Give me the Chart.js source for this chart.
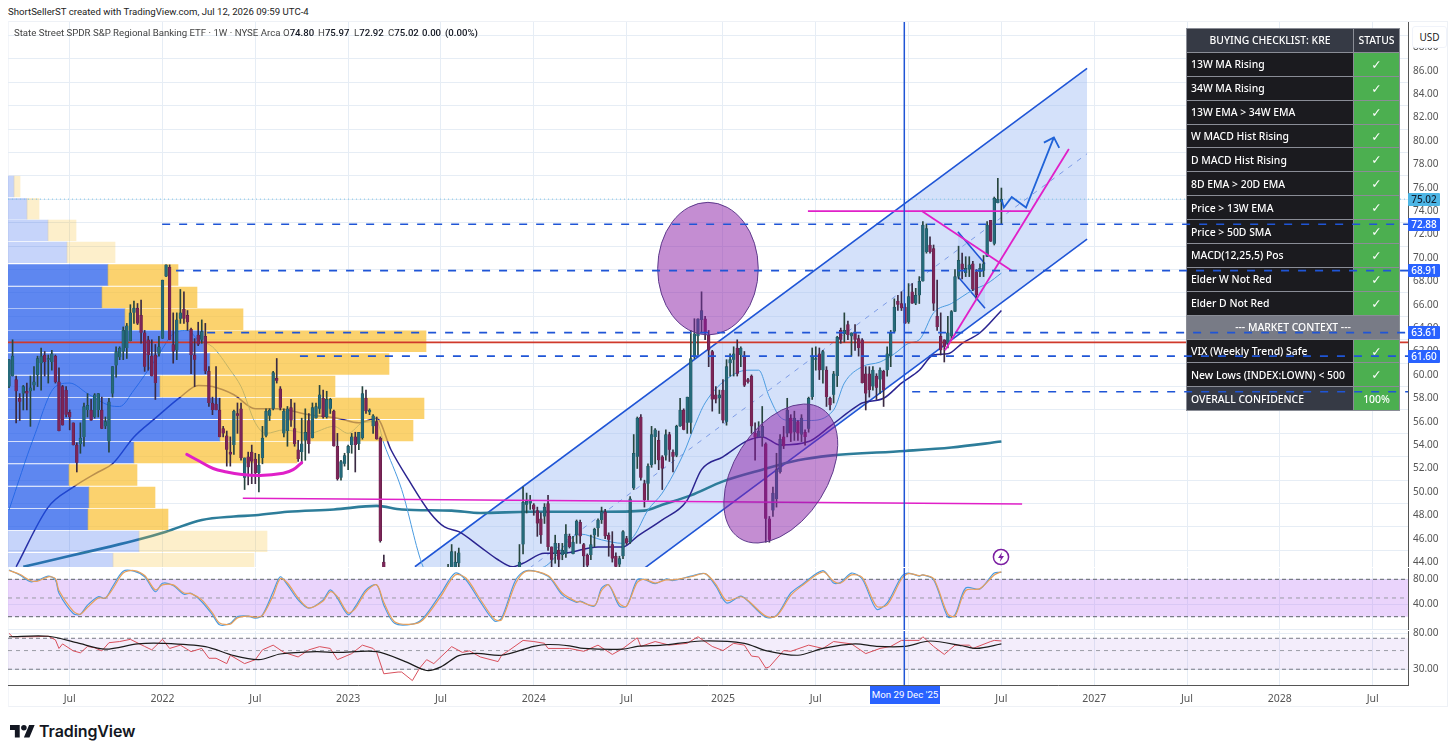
<!DOCTYPE html>
<html>
<head>
<meta charset="utf-8">
<title>KRE weekly</title>
<script src="https://cdn.jsdelivr.net/npm/chart.js@4"></script>
<style>
  html, body { margin: 0; padding: 0; background: #fff; width: 1456px; height: 755px; overflow: hidden; }
  body { position: relative; font-family: "Noto Sans", sans-serif; color: #131722; }
  canvas, .abs { position: absolute; }
  #credit { left: 8px; top: 6px; font: 9.65px Roboto, sans-serif; color: #222; white-space: nowrap; }
  #frame { left: 8px; top: 21px; width: 1440px; height: 686px; border: 1px solid #eef1f6; border-left-color: #f3f5f9; box-sizing: border-box; }
  #legend { left: 14px; top: 27px; height: 14px; width: 480px; font: 9.65px Roboto, sans-serif; color: #444; z-index: 6; white-space: nowrap; }
  #legend span { position: absolute; top: 0; }
  #legend b { font-weight: 500; color: #131722; }
  #usd { left: 1412px; top: 26px; width: 33px; height: 20px; line-height: 20px; text-align: center; background: #fff; border: 1px solid #f0f3fa; border-radius: 3px; font: 10px/20px "Noto Sans", sans-serif; color: #222; z-index: 7; }
  #checklist { left: 1186px; top: 28px; width: 214px; height: 382px; border-collapse: collapse; table-layout: fixed; z-index: 2; font: 500 10.4px "Noto Sans", sans-serif; color: #fff; }
  #checklist td { border: 1px solid #8a8d96; padding: 0 0 0 4px; height: 22.9px; background: #1b1b1f; white-space: nowrap; overflow: hidden; }
  #checklist td.status { background: #4caf50; text-align: center; padding: 0; font: bold 12.5px "DejaVu Sans", sans-serif; }
  #checklist tr.head td { background: #363a45; text-align: center; padding: 0; font-weight: 500; }
  #checklist tr.head td.status { font: 500 10.4px "Noto Sans", sans-serif; }
  #checklist tr.context td { background: #787b86; text-align: center; padding: 0; }
  #checklist tr.total td.name { background: #363a45; }
  #checklist tr.total td.status { font: 500 10.4px "Noto Sans", sans-serif; }
  .tag { left: 1408px; width: 32px; height: 13px; line-height: 13px; text-align: center; font: 500 10px/13px "Noto Sans", sans-serif; background: #2962ff; color: #fff; border-radius: 1px; z-index: 5; }
  #crossTag { left: 870px; top: 686px; width: 70px; height: 18px; line-height: 18px; text-align: center; background: #2962ff; color: #fff; font: 9.7px/18px Roboto, sans-serif; white-space: nowrap; z-index: 6; }
  #brand { left: 39px; top: 719px; font: 600 16px/24px Inter, sans-serif; color: #131722; letter-spacing: -0.1px; }
</style>
</head>
<body>
<div id="frame" class="abs"></div>
<div id="credit" class="abs">ShortSellerST created with TradingView.com, Jul 12, 2026 09:59 UTC-4</div>
<canvas id="priceChart" width="1456" height="545" style="left:0;top:22px;z-index:1"></canvas>
<canvas id="stochChart" width="1456" height="62" style="left:0;top:568px;z-index:1"></canvas>
<canvas id="rsiChart" width="1456" height="86" style="left:0;top:621px;z-index:1"></canvas>
<table id="checklist" class="abs"></table>
<canvas id="levelChart" width="1456" height="545" style="left:0;top:22px;z-index:3"></canvas>
<div id="legend" class="abs">
  <span style="left:0">State Street SPDR S&amp;P Regional Banking ETF · 1W · NYSE Arca</span>
  <span style="left:269px">O<b>74.80</b></span>
  <span style="left:304px">H<b>75.97</b></span>
  <span style="left:340px">L<b>72.92</b></span>
  <span style="left:374px">C<b>75.02</b></span>
  <span style="left:408px"><b>0.00</b></span>
  <span style="left:431px"><b>(0.00%)</b></span>
</div>
<div id="usd" class="abs">USD</div>
<div id="crossTag" class="abs">Mon 29 Dec '25</div>
<svg class="abs" style="left:992px;top:548px;z-index:6" width="18" height="18" viewBox="0 0 18 18">
  <circle cx="9" cy="9" r="7.6" fill="#fff" stroke="#7b1fa2" stroke-width="1.5"/>
  <path d="M10.2 4 L6 10 H8.8 L7.8 14 L12 8 H9.2 Z" fill="#7b1fa2"/>
</svg>
<svg class="abs" style="left:10px;top:722px" width="25" height="20" viewBox="0 0 36 28">
  <path d="M14 22H7V11H0V4h14v18zM28 22h-8l7.5-18h8L28 22z" fill="#131722"/>
  <circle cx="20" cy="8" r="4" fill="#131722"/>
</svg>
<div id="brand" class="abs">TradingView</div>

<script>
// velas semanais
const candleOpen = [
  59.0,59.9,59.6,58.0,58.4,58.6,58.6,59.1,60.0,61.0, 61.7,61.3,61.1,61.6,59.4,59.0,58.7,56.8,55.9,54.0,
  54.1,54.7,57.0,57.0,56.4,57.0,57.0,55.6,54.3,58.4, 60.8,61.5,62.0,62.3,62.9,65.3,65.7,65.1,63.6,63.0,
  61.6,61.7,61.8,63.1,68.4,69.2,62.6,62.1,64.8,65.6, 65.1,63.9,61.7,63.4,63.0,63.3,60.3,57.6,57.5,57.0,
  55.4,54.8,53.4,54.0,56.7,57.1,51.2,53.0,53.4,52.8, 51.6,52.9,54.8,56.5,57.1,59.7,58.8,55.0,55.2,57.2,
  55.4,53.6,53.4,54.4,56.1,54.6,56.3,57.1,58.0,56.4, 57.1,56.9,53.9,51.2,52.4,53.3,54.0,54.7,54.1,54.6,
  58.0,56.8,55.6,56.0,54.6,44.0,42,41.5,40.5,41, 40,38,39,36,38,39.5,40.5,41.5,41,40,
  41,41.5,42.5,43,43.5,43.3,43.9,43.4,42,41.5, 40.5,41,39.5,39,38.5,39.5,39,40,40.5,41.5,
  42,42.5,43,43,45.5,48.9,49.0,48.9,48.4,47.7, 47.9,49.0,45.3,44.7,45.0,44.6,44.7,46.2,44.7,46.3,
  47.4,45.5,44.6,44.6,46.3,46.9,47.6,48.3,46.3,45.5, 44.5,43.8,44.5,46.0,45.7,50.3,53.0,56.4,50.7,50.7,
  52.3,54.7,54.4,53.0,53.1,54.9,53.4,53.1,55.6,57.0, 55.9,55.9,61.5,63.3,64.7,64.8,63.4,62.0,58.3,58.0,
  58.7,56.0,61.0,61.3,62.3,61.7,61.6,59.6,59.9,55.0, 54.7,54.7,54.1,47.7,48.4,49.4,51.7,54.7,55.0,56.3,
  55.1,56.0,54.9,55.1,55.4,58.1,61.3,61.8,60.4,60.4, 58.0,58.3,59.9,63.8,63.5,64.3,63.3,63.6,63.1,63.0,
  60.1,60.1,59.0,59.9,59.6,60.3,60.4,61.6,63.7,66.3, 66.1,65.8,64.5,67.1,66.1,66.8,68.0,70.5,71.1,70.8,
  65.0,63.3,63.0,62.7,63.3,65.4,68.4,69.5,68.7,69.0, 69.5,68.8,68.8,68.9,70.1,73.2,71.2,74.7,74.8
];
const candleHigh = [
  61.3,63.0,59.9,58.4,59.1,59.3,59.9,60.7,61.6,62.3, 62.0,61.7,62.1,61.7,60.6,59.1,59.0,57.0,55.9,54.2,
  55.9,57.6,58.4,57.9,58.4,58.4,58.1,56.4,58.0,60.7, 62.4,62.4,64.1,64.4,66.0,66.3,66.1,66.4,63.8,63.3,
  63.0,62.6,63.3,68.1,69.4,69.4,65.3,65.3,67.3,67.1, 65.5,64.0,63.1,64.5,64.7,64.4,60.7,58.1,60.7,58.0,
  55.6,55.2,54.7,57.0,57.6,57.6,52.9,53.4,54.0,53.3, 53.2,55.6,57.1,57.1,60.3,61.4,59.0,57.1,57.3,57.9,
  57.6,54.4,56.3,57.1,56.7,57.6,57.6,59.1,58.7,58.6, 58.0,57.0,55.0,52.7,53.3,54.0,55.0,55.1,55.1,59.0,
  58.7,57.1,56.6,56.4,54.7,44.6,43,42.5,42,42, 41,39.5,40,38.5,40,41,42,42.5,42,41.5,
  42,43,43.5,43.8,45.5,44.9,45.2,43.5,43,42, 41.5,41.5,40.5,40,40,40.5,40.5,41,42,42.5,
  43,43.3,43.5,45.5,50.4,49.9,49.7,49.0,48.7,48.2, 49.0,49.7,45.3,46.3,45.6,45.6,47.2,46.4,46.2,47.6,
  47.6,45.6,44.7,46.3,46.9,47.7,48.7,48.5,46.5,46.6, 44.8,44.5,46.7,46.2,49.6,54.9,56.4,56.6,51.0,52.4,
  55.6,55.4,55.2,53.1,55.3,55.1,53.6,55.7,58.0,57.1, 58.1,63.8,64.8,64.8,67.1,65.0,63.8,62.1,59.0,58.7,
  59.6,61.3,61.8,62.4,63.0,62.4,62.0,59.7,60.0,55.9, 56.0,57.3,54.2,47.9,50.4,53.3,54.9,55.6,58.0,56.6,
  56.9,56.1,56.6,55.3,58.1,62.3,62.4,62.3,62.1,60.7, 58.1,60.3,63.3,64.0,65.3,64.6,63.6,64.3,63.4,63.1,
  60.7,60.7,60.7,60.1,60.6,60.4,62.4,63.8,66.5,66.8, 67.1,66.1,67.8,67.8,67.4,68.4,73.1,72.9,71.8,71.1,
  68.1,65.3,63.0,65.0,65.5,69.0,71.0,70.4,70.1,70.1, 69.7,69.0,69.5,70.2,73.1,73.2,75.2,76.8,75.97
];
const candleLow = [
  58.9,59.9,55.9,56.1,57.0,57.0,55.6,58.7,59.0,58.7, 59.9,59.3,60.4,59.3,55.2,55.7,56.4,55.3,54.0,51.7,
  53.3,53.9,56.4,56.1,56.3,56.4,55.4,55.4,53.4,58.1, 59.8,61.3,61.3,61.4,62.9,64.4,64.3,62.7,60.3,60.4,
  59.9,57.9,61.6,63.1,68.4,63.0,61.0,61.3,64.4,64.4, 63.8,60.1,59.0,62.5,62.7,60.1,57.3,56.6,57.0,54.7,
  54.7,52.2,52.2,53.2,55.0,52.7,50.2,50.6,50.7,50.7, 50.0,52.4,54.7,56.1,57.0,59.3,57.0,54.7,53.9,55.6,
  53.9,52.6,52.4,52.7,53.3,54.6,56.3,56.7,56.3,56.3, 56.7,53.9,51.0,51.0,52.2,51.9,53.3,51.7,53.6,54.5,
  56.7,56.6,55.0,54.5,45.7,39.5,39.5,39,39,39.5, 37,36.5,35.5,35,37.5,39,40,40.5,39.5,39.5,
  40,41,41.5,42,42.8,42.5,43.0,41.5,41,40, 39.5,39,38.5,38,38,38.5,38.5,39.5,40,41,
  41.5,42,42.5,42.5,44.7,48.2,48.5,48.0,46.2,45.6, 47.3,45.0,43.6,43.9,43.5,44.2,44.4,45.2,44.7,45.6,
  45.6,43.6,43.4,44.2,45.3,46.2,47.3,46.0,44.5,44.0, 43.3,43.4,44.3,45.5,45.6,50.2,52.0,51.0,48.7,49.3,
  52.1,52.4,51.9,50.2,52.7,52.6,51.7,53.0,55.6,55.3, 55.0,55.0,61.4,61.7,63.6,63.0,60.7,56.9,57.6,56.7,
  55.9,55.7,59.9,59.9,59.9,60.7,59.0,59.3,55.0,52.7, 54.7,53.9,45.7,45.7,47.9,48.7,51.6,53.7,54.7,54.3,
  54.4,54.4,54.3,54.0,55.1,57.9,60.4,59.6,59.3,57.3, 57.0,57.6,59.0,62.7,62.8,63.0,61.6,62.1,61.6,59.3,
  57.0,58.1,58.7,57.9,58.4,57.3,59.9,60.7,63.6,65.5, 65.5,64.4,64.4,66.1,66.0,66.1,68.0,70.4,70.4,65.5,
  63.8,61.7,61.1,62.3,63.0,65.4,68.2,68.2,68.4,68.4, 67.2,66.5,68.4,68.4,70.1,71.4,71.1,74.7,72.92
];
const candleClose = [
  61.3,61.6,58.6,57.7,59.0,58.4,58.9,59.4,61.4,61.6, 61.1,61.4,61.8,59.4,55.2,55.7,56.6,56.4,54.0,52.5,
  54.6,57.3,57.4,56.1,58.3,58.4,55.4,56.0,57.7,60.7, 62.0,62.3,63.8,64.2,65.3,65.7,64.4,63.6,60.7,61.7,
  59.9,59.3,62.4,68.1,69.4,63.0,62.0,64.7,65.3,64.8, 64.5,61.7,61.3,62.6,63.7,60.3,57.6,57.0,57.0,54.7,
  55.0,53.6,53.2,56.9,56.5,52.9,52.9,52.1,52.6,51.6, 52.3,54.6,56.9,57.0,60.2,59.5,57.2,56.9,57.1,56.1,
  54.1,52.8,54.1,55.1,54.1,57.2,57.3,58.3,56.4,57.9, 57.9,53.9,51.1,52.6,53.1,53.9,54.7,54.0,55.1,58.4,
  56.9,57.0,56.5,54.5,45.8,42,41.5,40.5,41,40, 38,39,36,38,39.5,40.5,41.5,41,40,41,
  41.5,42.5,43,43.5,44.9,44.0,44.8,42,41.5,40.5, 41,39.5,39,38.5,39.5,39,40,40.5,41.5,42,
  42.5,43,43.2,44.0,49.1,49.2,49.3,48.5,47.3,46.3, 48.7,45.3,44.2,45.6,44.2,45.0,46.4,45.3,45.7,47.5,
  46.2,44.5,43.7,45.5,46.8,47.6,48.3,46.2,45.9,44.3, 43.6,44.3,46.6,45.6,49.4,53.3,56.3,51.2,49.3,52.2,
  54.9,55.3,52.7,52.0,54.9,53.6,53.0,55.6,57.0,55.3, 58.1,61.4,63.5,64.8,65.5,63.6,62.1,57.9,57.9,58.3,
  56.1,60.7,61.3,61.8,60.1,62.3,59.1,59.4,55.6,54.7, 55.2,55.6,47.7,45.9,49.9,51.9,54.5,53.9,57.0,55.0,
  56.3,55.0,56.3,54.7,58.0,61.6,61.4,60.4,62.0,58.1, 57.4,60.1,63.2,63.0,63.8,63.4,63.6,63.0,62.3,59.3,
  58.4,58.7,60.4,58.9,60.4,58.7,61.8,63.6,65.8,66.0, 65.7,64.4,66.7,66.1,66.8,68.0,72.8,72.5,70.5,66.1,
  64.1,62.1,62.4,63.6,65.4,68.4,69.8,69.0,69.1,69.4, 67.3,66.8,69.1,69.5,72.8,71.4,75.1,75.0,75.02
];

// médias móveis (barra, preço)
const longMaBars = [4,16,28,36,44,54,63,69,78,91,103,110,124,132,146,165,178,183,191,200,211,221,230,251,264,278];
const longMaValues = [43.6,44.46,45.3,45.9,46.6,47.6,47.9,48.0,48.3,48.5,48.8,48.5,48.4,48.2,48.3,48.3,48.4,48.9,49.7,50.9,51.9,52.7,53.1,53.5,53.8,54.3];
const midMaBars = [2,11,18,25,29,35,41,48,53,57,63,69,75,84,92,98,103,107,112,118,122,126,132,137,141,144,150,155,165,172,176,183,190,194,200,207,211,216,224,230,236,239,245,250,255,259,263,267,272,278];
const midMaValues = [43.6,48.7,50.4,51.7,52.4,54.7,56.3,58.1,59.1,59.0,58.3,57.1,57.1,56.6,56.3,55.9,56.3,53.6,51.0,48.2,47.0,46.6,45.3,44.2,43.6,43.9,44.75,44.75,45.3,45.3,46.2,47.6,49.3,51.9,53.0,54.4,54.7,54.0,54.3,55.6,57.0,57.6,58.0,59.3,60.4,61.7,61.8,62.7,63.6,65.5];
const fastMaBars = [0,7,13,17,22,28,31,35,41,47,50,53,57,62,65,69,72,77,84,91,95,99,103,105,110,116,125,135,145,150,160,166,172,175,179,183,189,192,195,202,207,210,213,216,219,224,231,234,239,244,248,252,255,259,264,270,274,278];
const fastMaValues = [48.45,54.7,59.0,59.3,58.4,57.4,57.3,58.7,61.3,63.7,63.8,63.0,62.4,60.4,59.0,55.9,55.0,55.3,55.0,55.6,55.0,55.9,56.0,54.15,50.2,43.6,40,42,43.3,43.6,46.4,45.9,45.6,46.2,48.45,49.9,53.3,55.6,57.6,59.85,60.4,60.4,58.1,56.4,56.1,56.1,57.0,59.3,60.7,61.1,61.8,62.7,63.0,65.3,66.1,67.25,67.8,68.7];

// perfil de volume
const profilePrices = [76.1,74.2,72.35,70.47,68.54,66.63,64.75,62.87,60.93,59.02,57.14,55.23,53.35,51.44,49.53,47.65,45.77,43.86];
const profileBuy = [6,19,40,59,100,94,117,196,202,152,212,212,126,61,81,80,131,105];
const profileSell = [6,12,28,48,70,95,118,222,179,175,204,193,163,68,66,80,128,141];
const profileFaded = [true,true,true,true,false,false,false,false,false,false,false,false,false,false,false,false,true,true];

// níveis e linhas desenhadas
const levelPrices = [72.88,68.91,63.61,61.60,58.56];
const levelStartBars = [42.9,46.8,55.5,81.5,253];
const lastClose = 75.02;
const redLevel = 62.78;
const crossBar = 250.8;

const channelBars = [113.7,302];
const channelUpper = [43.6,86.2];
const channelLower = [28.9,71.6];
const channelMid = [36.2,78.9];
const supportLineBars = [65.5,283.8];
const supportLineValues = [49.45,48.97];
const arcBars = [49.8,53.5,57.2,61,64.7,70.3,76.8,79.6,82];
const arcValues = [53.2,52.6,52.0,51.7,51.5,51.4,51.6,51.9,52.5];
const topLineBars = [223.8,286];
const topLineValues = [74.0,74.0];
const fallLineBars = [255.7,280.9];
const fallLineValues = [74.0,68.9];
const riseLineBars = [262.2,296.9];
const riseLineValues = [62.1,79.3];
const flagBars = [265.8,273.4];
const flagUpper = [72.24,69.5];
const flagLower = [68.4,65.7];
const pathBars = [278.1,278.7,280.9,284.9,292.7];
const pathValues = [74.95,74.3,75.2,74.3,80.3];
const arrowBars = [289.9,292.7,294.2];
const arrowValues = [79.85,80.3,79.4];

// painel estocástico
const stochBars = [0,3,6,8,11,13,14,18,20,22,25,27,29,32,35,38,41,43,46,49,51,54,57,59,62,64,67,69,71,74,76,78,81,84,88,90,92,95,97,100,103,105,108,113,116,121,125,128,132,136,138,142,145,151,155,159,160,164,166,168,171,173,176,178,181,184,186,191,195,198,201,205,207,212,215,219,222,228,231,233,236,239,243,246,250,252,255,256,259,263,265,268,272,276,278];
const stochK = [95,87,76,78,85,79,57.5,25,24,38.5,52,49.5,68,93,93,84,60,73.6,70,56,57.5,44,23,7,9.4,20,21,17.5,23,60,84,71,47,33.7,47,63,49.5,23,36,63,71,38.5,9.4,8,17.5,57.5,90,79,44,13,18,79.5,94,85,55,43,45,37,66,71,37,37,79.5,79.5,73,80.5,78,85,89,69,42,53,45,19,22,58,71,94,74,75,90,80.5,32,42,84,90,85,87,79.5,19.5,23,66,64.5,90,91];
const stochD = [94,88,78,77,84,81,62,29,24,35,50,50,64,90,94,86,63,71,71,58,57,47,26,10,8,18,21,19,22,54,81,74,50,34,45,60,52,26,33,60,71,43,12,8,15,53,87,82,48,16,15,74,93,86,58,44,44,38,62,71,41,37,75,80,74,79,79,84,89,72,46,52,46,21,21,54,69,92,77,74,87,83,37,39,80,89,86,87,81,24,21,62,65,87,92];

// painel RSI
const rsiBars = [0,1,7,11,13,14,15,18,20,22,24,26,28,31,34,38,40,43,45,48,51,54,56,58,61,62,66,69,71,74,77,81,84,87,90,92,96,99,102,103,105,109,110,113,115,117,119,124,127,129,132,137,138,140,144,147,150,151,157,161,165,169,172,176,177,181,185,190,193,197,200,203,206,208,210,212,213,217,219,224,228,231,236,240,244,247,250,255,256,259,262,265,269,270,275,276,278];
const rsiValues = [80,73,73,74,67,53,60,49.6,47,56,54,49.6,62,64,68,56,51,68,53,58,48.6,53,40.5,40.5,35,44,35,39,51,58,47.6,42,51,55.7,53,39,46,58,53,47.6,26.5,27.8,27.8,22,30.8,39,35,55.7,47.6,49.6,42,37,44,50,66,64,61,53,53,49,58,45,53,71,56,64,58,61,73,56,50,61,58,43,42,31,32,50,49,58,53,64,60,46,53,56,66,66,73,56,45,58,58,53,64,66,65];
const rsiMaBars = [0,11,19,27,36,43,55,63,70,76,86,92,103,111,117,121,126,131,138,147,151,157,161,172,176,183,194,206,212,221,228,237,243,251,258,267,271,278];
const rsiMaValues = [73,74,62,52,60,61,55.7,43.5,39,45.5,48.6,47.5,48.6,37,29,32,43.5,46.4,44,56,59,57,53,52,56,58,65,61,50,44,53,60,56,56,65,57,53,60];

// eixos
const priceTicks = [44,46,48,50,52,54,56,58,60,62,64,66,68,70,72,74,76,78,80,82,84,86,88];
const stochTicks = [0,40,80];
const rsiTicks = [30,80];
const timeTickBars = [17,43,69,95,121,147,173,200,226,252,278,304,330,356,382];
const timeTickLabels = ["Jul","2022","Jul","2023","Jul","2024","Jul","2025","Jul","","Jul","2027","Jul","2028","Jul"];

// tabela
const checklistRows = ["13W MA Rising","34W MA Rising","13W EMA > 34W EMA","W MACD Hist Rising","D MACD Hist Rising","8D EMA > 20D EMA","Price > 13W EMA","Price > 50D SMA","MACD(12,25,5) Pos","Elder W Not Red","Elder D Not Red"];
const contextRows = ["VIX (Weekly Trend) Safe","New Lows (INDEX:LOWN) < 500"];

const xMin = -0.28, xMax = 391.9;
const GRID = "#e6edf5";
const BLUE = "#1f55d6";
const MAGENTA = "#e020c8";
const axisFont = { family: "'Noto Sans', sans-serif", size: 10 };

Chart.defaults.animation = false;
Chart.defaults.responsive = false;
Chart.defaults.font.family = "'Noto Sans', sans-serif";
Chart.defaults.plugins.legend.display = false;
Chart.defaults.plugins.tooltip.enabled = false;

function pairs(bars, values) {
  return bars.map((b, i) => ({ x: b, y: values[i] }));
}

function lineSet(bars, values, color, width, order, extra) {
  return Object.assign({
    type: "line",
    data: pairs(bars, values),
    borderColor: color,
    borderWidth: width,
    pointRadius: 0,
    fill: false,
    tension: 0,
    order: order,
  }, extra || {});
}

function timeAxis(showLabels) {
  return {
    type: "linear",
    min: xMin,
    max: xMax,
    offset: false,
    display: true,
    afterBuildTicks: (axis) => { axis.ticks = timeTickBars.map((v) => ({ value: v })); },
    grid: { color: GRID, drawTicks: false, offset: false },
    border: showLabels ? { display: true, color: "#555", width: 1 } : { display: false },
    ticks: {
      display: showLabels,
      maxRotation: 0,
      autoSkip: false,
      padding: 8,
      color: "#555",
      font: { family: axisFont.family, size: 10.5 },
      callback: (v) => timeTickLabels[timeTickBars.indexOf(v)],
    },
    afterFit: (axis) => {
      axis.height = showLabels ? 22 : 0;
      axis.paddingLeft = 0;
      axis.paddingRight = 0;
    },
  };
}

function valueAxis(type, min, max, tickValues) {
  return {
    type: type,
    position: "right",
    min: min,
    max: max,
    offset: false,
    afterBuildTicks: (axis) => { axis.ticks = tickValues.map((v) => ({ value: v })); },
    grid: { color: GRID, drawTicks: false },
    border: { display: true, color: "#555", width: 1 },
    ticks: {
      color: "#555",
      padding: 5,
      font: axisFont,
      autoSkip: false,
      callback: (v) => (v === 0 ? "" : Number(v).toFixed(2)),
    },
    afterFit: (axis) => {
      axis.width = 48;
      axis.paddingTop = 0;
      axis.paddingBottom = 0;
    },
  };
}

// elipses roxas por cima do gráfico
const ovals = [
  { bar: 195.8, price: 69.08, rx: 50.3, ry: 66.3, tilt: 0 },
  { bar: 216.2, price: 51.57, rx: 76.7, ry: 46.8, tilt: -57.7 },
];
const ovalPlugin = {
  id: "ovals",
  afterDatasetsDraw(chart) {
    const { ctx, scales, chartArea } = chart;
    ctx.save();
    ctx.beginPath();
    ctx.rect(chartArea.left, chartArea.top, chartArea.width, chartArea.height);
    ctx.clip();
    ovals.forEach((o) => {
      ctx.beginPath();
      ctx.ellipse(scales.x.getPixelForValue(o.bar), scales.y.getPixelForValue(o.price), o.rx, o.ry, o.tilt * Math.PI / 180, 0, Math.PI * 2);
      ctx.fillStyle = "rgba(137,27,165,0.5)";
      ctx.strokeStyle = "#5e3a8c";
      ctx.lineWidth = 1;
      ctx.fill();
      ctx.stroke();
    });
    ctx.restore();
  },
};

const isUp = (i) => candleClose[i] >= candleOpen[i];
const smooth = { cubicInterpolationMode: "monotone" };

// painel de preço
const priceChart = new Chart(document.getElementById("priceChart"), {
  type: "bar",
  data: {
    datasets: [
      // canal
      lineSet(channelBars, channelUpper, BLUE, 1.6, 95, { fill: "+1", backgroundColor: "rgba(160,188,245,0.45)" }),
      lineSet(channelBars, channelLower, BLUE, 1.6, 94),
      lineSet(channelBars, channelMid, "#7d9be6", 1, 93, { borderDash: [5, 6] }),
      lineSet(flagBars, flagUpper, BLUE, 1.6, 92, { fill: "+1", backgroundColor: "rgba(160,188,245,0.3)" }),
      lineSet(flagBars, flagLower, BLUE, 1.6, 91),
      // médias
      lineSet(longMaBars, longMaValues, "#2d7d9a", 2.6, 85, smooth),
      lineSet(midMaBars, midMaValues, "#2b2490", 1.5, 84, smooth),
      lineSet(fastMaBars, fastMaValues, "#4a9be0", 1, 83, smooth),
      // perfil de volume por cima das médias
      {
        type: "bar",
        indexAxis: "y",
        xAxisID: "xVol",
        data: profilePrices.map((p, i) => ({ x: [0, profileBuy[i]], y: p })),
        backgroundColor: profileFaded.map((f) => f ? "rgba(26,84,234,0.25)" : "rgba(26,84,234,0.7)"),
        barThickness: 20.7,
        grouped: false,
        order: 80,
      },
      {
        type: "bar",
        indexAxis: "y",
        xAxisID: "xVol",
        data: profilePrices.map((p, i) => ({ x: [profileBuy[i], profileBuy[i] + profileSell[i]], y: p })),
        backgroundColor: profileFaded.map((f) => f ? "rgba(249,191,48,0.25)" : "rgba(249,191,48,0.7)"),
        barThickness: 20.7,
        grouped: false,
        order: 79,
      },
      // nível vermelho e último preço
      lineSet([xMin, xMax], [redLevel, redLevel], "#d0392b", 1.6, 70),
      lineSet([xMin, xMax], [lastClose, lastClose], "#7cc4e8", 1, 69, { borderDash: [1, 3] }),
      // velas
      {
        type: "bar",
        data: candleHigh.map((h, i) => ({ x: i, y: [candleLow[i], h] })),
        backgroundColor: candleHigh.map((h, i) => isUp(i) ? "#27453e" : "#3a2a42"),
        barThickness: 1,
        grouped: false,
        order: 60,
      },
      {
        type: "bar",
        data: candleOpen.map((o, i) => ({ x: i, y: [o, candleClose[i]] })),
        backgroundColor: candleOpen.map((o, i) => isUp(i) ? "#256a7a" : "#7c2558"),
        borderColor: candleOpen.map((o, i) => isUp(i) ? "#1a4a52" : "#5c1c43"),
        borderWidth: 0.5,
        barThickness: 2.8,
        grouped: false,
        order: 59,
      },
      // desenhos
      lineSet(supportLineBars, supportLineValues, MAGENTA, 1.6, 40),
      lineSet(arcBars, arcValues, MAGENTA, 3, 39, { tension: 0.4, borderCapStyle: "round" }),
      lineSet(topLineBars, topLineValues, MAGENTA, 1.8, 38),
      lineSet(fallLineBars, fallLineValues, MAGENTA, 1.8, 37),
      lineSet(riseLineBars, riseLineValues, MAGENTA, 1.8, 36),
      lineSet(pathBars, pathValues, "#2063d8", 1.8, 35),
      lineSet(arrowBars, arrowValues, "#2063d8", 1.8, 34),
      lineSet([crossBar, crossBar], [43.58, 90.16], BLUE, 1.5, 30),
    ],
  },
  options: {
    layout: { padding: { left: 8, right: 0, top: 0, bottom: 0 } },
    scales: {
      x: timeAxis(false),
      xVol: { type: "linear", display: false, min: 0, max: 1400, offset: false, grid: { display: false } },
      y: valueAxis("linear", 43.58, 90.16, priceTicks),
    },
  },
  plugins: [ovalPlugin],
});

// níveis azuis por cima da tabela
new Chart(document.getElementById("levelChart"), {
  type: "line",
  data: {
    datasets: levelPrices.map((p, i) =>
      lineSet([levelStartBars[i], xMax], [p, p], BLUE, 1.6, i, { borderDash: [8, 9] })
    ),
  },
  options: {
    layout: { padding: { left: 8, right: 48, top: 0, bottom: 0 } },
    scales: {
      x: { type: "linear", display: false, min: xMin, max: xMax },
      y: { type: "linear", display: false, min: 43.58, max: 90.16 },
    },
  },
});

// painel estocástico
new Chart(document.getElementById("stochChart"), {
  type: "line",
  data: {
    datasets: [
      lineSet([xMin, xMax], [80, 80], "#787b86", 1.2, 10, { borderDash: [4, 3], fill: "+1", backgroundColor: "rgba(190,120,245,0.32)" }),
      lineSet([xMin, xMax], [20, 20], "#787b86", 1.2, 9, { borderDash: [4, 3] }),
      lineSet([xMin, xMax], [50, 50], "#9a9ca5", 1, 8, { borderDash: [4, 4] }),
      lineSet(stochBars, stochK, "#4a9be0", 1.2, 5, { tension: 0.3 }),
      lineSet(stochBars, stochD, "#e8a05a", 1.2, 4, { tension: 0.3 }),
      lineSet([crossBar, crossBar], [-1.4, 98.1], BLUE, 1.5, 1),
    ],
  },
  options: {
    layout: { padding: { left: 8, right: 0, top: 0, bottom: 0 } },
    scales: {
      x: timeAxis(false),
      y: valueAxis("linear", -1.4, 98.1, stochTicks),
    },
  },
});

// painel RSI, escala logarítmica
new Chart(document.getElementById("rsiChart"), {
  type: "line",
  data: {
    datasets: [
      lineSet([xMin, xMax], [70, 70], "#787b86", 1, 10, { borderDash: [4, 3], fill: "+1", backgroundColor: "rgba(170,130,230,0.14)" }),
      lineSet([xMin, xMax], [30, 30], "#787b86", 1, 9, { borderDash: [4, 3] }),
      lineSet([xMin, xMax], [50, 50], "#9a9ca5", 1, 8, { borderDash: [4, 4] }),
      lineSet(rsiBars, rsiValues, "#d9505c", 1, 5),
      lineSet(rsiMaBars, rsiMaValues, "#1c1c1c", 1.2, 4, { tension: 0.3 }),
      lineSet([crossBar, crossBar], [19.5, 85.4], BLUE, 1.5, 1),
    ],
  },
  options: {
    layout: { padding: { left: 8, right: 0, top: 10, bottom: 0 } },
    scales: {
      x: timeAxis(true),
      y: valueAxis("logarithmic", 19.5, 85.4, rsiTicks),
    },
  },
});

// etiquetas de preço no eixo
function addTag(value, background, color) {
  const tag = document.createElement("div");
  tag.className = "abs tag";
  tag.textContent = value.toFixed(2);
  tag.style.top = (22 + priceChart.scales.y.getPixelForValue(value) - 6.5) + "px";
  tag.style.background = background;
  tag.style.color = color;
  document.body.appendChild(tag);
}
addTag(lastClose, "#4db6e5", "#123");
levelPrices.slice(0, 4).forEach((p) => addTag(p, "#2962ff", "#fff"));

// tabela de checklist
function addRow(className, cells) {
  const tr = document.createElement("tr");
  tr.className = className;
  cells.forEach((c) => {
    const td = document.createElement("td");
    td.textContent = c.text;
    td.className = c.cls || "";
    if (c.span) td.colSpan = c.span;
    if (c.width) td.style.width = c.width + "px";
    tr.appendChild(td);
  });
  document.getElementById("checklist").appendChild(tr);
}
addRow("head", [{ text: "BUYING CHECKLIST: KRE", width: 166 }, { text: "STATUS", cls: "status" }]);
checklistRows.forEach((r) => addRow("", [{ text: r, cls: "name" }, { text: "✓", cls: "status" }]));
addRow("context", [{ text: "--- MARKET CONTEXT ---", span: 2 }]);
contextRows.forEach((r) => addRow("", [{ text: r, cls: "name" }, { text: "✓", cls: "status" }]));
addRow("total", [{ text: "OVERALL CONFIDENCE", cls: "name" }, { text: "100%", cls: "status" }]);
</script>
</body>
</html>
